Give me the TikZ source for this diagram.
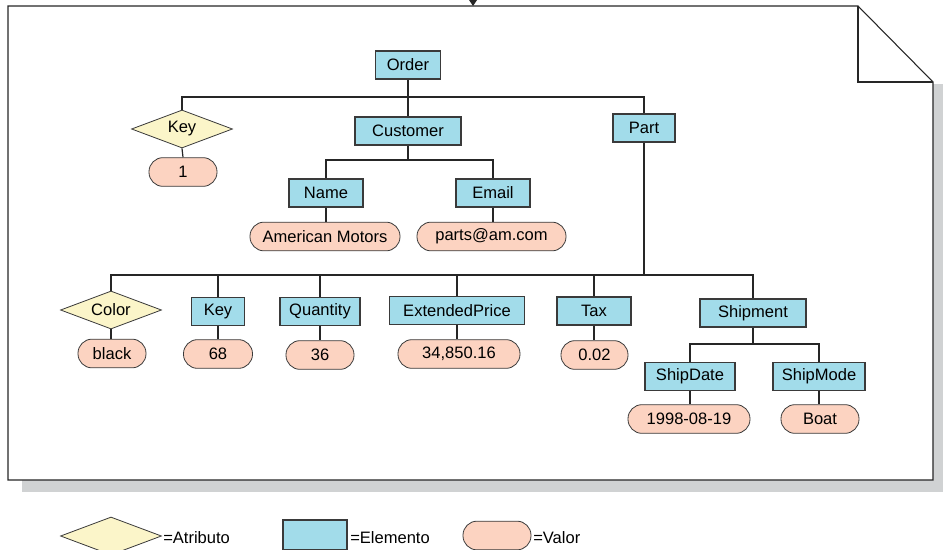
\documentclass[tikz,border=0pt]{standalone}
\usepackage{fontspec}
\setmainfont{Liberation Sans}
\usetikzlibrary{shapes.geometric}
\definecolor{elemfill}{HTML}{A2DCEA}
\definecolor{attrfill}{HTML}{FBF5C9}
\definecolor{valfill}{HTML}{FCD3C1}
\definecolor{edgec}{HTML}{3A3A3A}
\definecolor{shadowc}{HTML}{D0D2D3}
\begin{document}
\begin{tikzpicture}[x=0.75pt,y=-0.75pt,
  font=\fontsize{12.4}{14}\selectfont,
  elem/.style={draw=edgec, line width=0.8pt, fill=elemfill, rectangle, inner sep=0pt,
    minimum width=#1*0.75pt, minimum height=21pt, text=black},
  attr/.style={draw=edgec, line width=0.6pt, fill=attrfill, diamond, aspect=2.7, inner sep=0pt,
    minimum width=101*0.75pt, minimum height=38*0.75pt, text=black},
  val/.style={draw=edgec, line width=0.6pt, fill=valfill, rectangle, rounded corners=10.5pt, inner sep=0pt,
    minimum width=#1*0.75pt, minimum height=21.5pt, text=black},
  conn/.style={draw=black!85, line width=0.9pt},
  frame/.style={draw=black!85, line width=0.8pt}]
\useasboundingbox (0,0) rectangle (943,550);
% shadow of page
\fill[shadowc] (22,480) rectangle (943,492);
\fill[shadowc] (933,84) rectangle (943,492);
\draw[shadowc, line width=1.5pt] (860,8) -- (860,81);
% page
\fill[white] (8,6) -- (858,6) -- (933,82) -- (933,480) -- (8,480) -- cycle;
\draw[frame] (8,6) -- (858,6) -- (933,82) -- (933,480) -- (8,480) -- cycle;
\draw[frame] (858,6) -- (858,82) -- (933,82);
% incoming arrow
\coordinate (inB) at (473,6);
\fill[black!85] (469,0) -- (477,0) -- (inB) -- cycle;

% nodes
\node[elem=65] (order) at (408,65) {Order};
\node[attr] (key1) at (182,129) {Key};
\node[val=68] (v1) at (183,172) {1};
\node[elem=106] (cust) at (408,131) {Customer};
\node[elem=62] (part) at (644,128) {Part};
\node[elem=74] (name) at (326,193) {Name};
\node[elem=74] (email) at (493,193) {Email};
\node[val=150] (am) at (325,236.5) {American Motors};
\node[val=149] (pam) at (491.5,236.5) {parts@am.com};

\node[attr] (color) at (111,310) {Color};
\node[val=68] (black) at (112,353.5) {black};
\node[elem=53] (key2) at (218,311.5) {Key};
\node[val=69] (v68) at (218,354) {68};
\node[elem=80] (qty) at (320,311.5) {Quantity};
\node[val=68] (v36) at (320,355) {36};
\node[elem=135] (ext) at (457,310.5) {ExtendedPrice};
\node[val=122] (vext) at (459,354) {34,850.16};
\node[elem=74] (tax) at (594,311) {Tax};
\node[val=67] (vtax) at (594.5,355) {0.02};
\node[elem=106] (ship) at (753,313) {Shipment};
\node[elem=90] (sdate) at (690,376.5) {ShipDate};
\node[elem=92] (smode) at (819,376.5) {ShipMode};
\node[val=122] (vdate) at (689,419) {1998-08-19};
\node[val=78] (vmode) at (820,419) {Boat};

% connectors
\draw[conn] (order.south) -- (cust.north);
\draw[conn] (key1.north) |- (order.south |- 0,97) -| (part.north);
\draw[conn] (key1.south) -- (v1.north);
\draw[conn] (name.north) |- (cust.south |- 0,160) -| (email.north);
\draw[conn] (cust.south) -- (cust.south |- 0,160);
\draw[conn] (name.south) -- (name.south |- am.north);
\draw[conn] (email.south) -- (email.south |- pam.north);
\draw[conn] (part.south) -- (part.south |- 0,275);
\draw[conn] (color.north) |- (part.south |- 0,275) -| (ship.north);
\draw[conn] (key2.north) -- (key2.north |- 0,275);
\draw[conn] (qty.north) -- (qty.north |- 0,275);
\draw[conn] (ext.north) -- (ext.north |- 0,275);
\draw[conn] (tax.north) -- (tax.north |- 0,275);
\draw[conn] (color.south) -- (color.south |- black.north);
\draw[conn] (key2.south) -- (key2.south |- v68.north);
\draw[conn] (qty.south) -- (qty.south |- v36.north);
\draw[conn] (ext.south) -- (ext.south |- vext.north);
\draw[conn] (tax.south) -- (tax.south |- vtax.north);
\draw[conn] (sdate.north) |- (ship.south |- 0,344) -| (smode.north);
\draw[conn] (ship.south) -- (ship.south |- 0,344);
\draw[conn] (sdate.south) -- (sdate.south |- vdate.north);
\draw[conn] (smode.south) -- (smode.south |- vmode.north);

% legend
\node[attr] (lgattr) at (111,536) {};
\node[anchor=west, inner sep=0pt] (lgattrt) at (163,538) {=Atributo};
\node[elem=64, minimum height=22.5pt] (lgelem) at (315,535) {};
\node[anchor=west, inner sep=0pt] (lgelemt) at (350,538) {=Elemento};
\node[val=68] (lgval) at (497,535.5) {};
\node[anchor=west, inner sep=0pt] (lgvalt) at (533,538) {=Valor};
\end{tikzpicture}
\end{document}
